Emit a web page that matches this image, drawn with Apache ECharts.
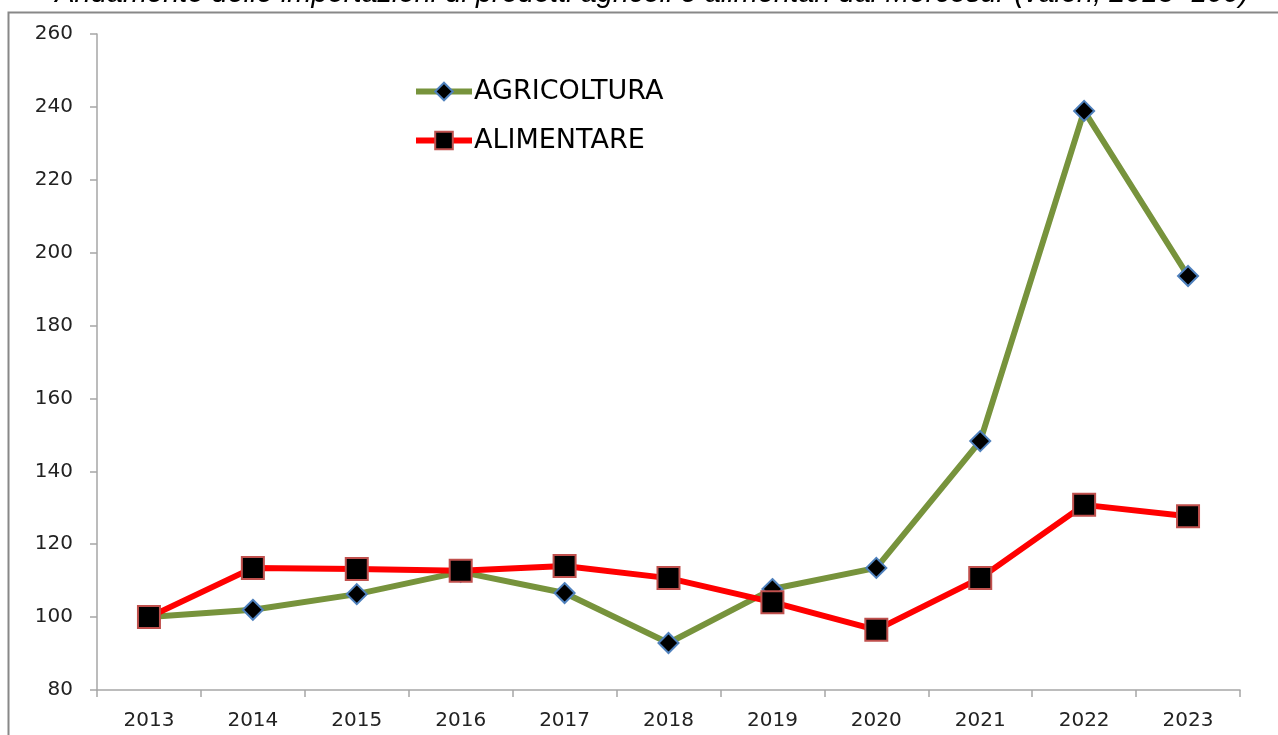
<!DOCTYPE html>
<html>
<head>
<meta charset="utf-8">
<script src="https://cdn.jsdelivr.net/npm/echarts@6/dist/echarts.min.js"></script>
<style>
  html, body { margin: 0; padding: 0; background: #fff; }
  #chart { width: 1278px; height: 735px; }
</style>
</head>
<body>
<div id="chart"></div>
<script>
// anni (categorie)
var years = ['2013', '2014', '2015', '2016', '2017', '2018', '2019', '2020', '2021', '2022', '2023'];
// indici 2013=100
var agricoltura = [100, 102, 106.3, 112.4, 106.6, 92.9, 107.7, 113.5, 148.3, 238.9, 193.6];
var alimentare = [100, 113.5, 113.2, 112.7, 114, 110.7, 104.1, 96.5, 110.7, 130.8, 127.7];

var titolo = 'Andamento delle importazioni di prodotti agricoli e alimentari dal Mercosur (valori, 2013=100)';

var myChart = echarts.init(document.getElementById('chart'));
var option = {
  animation: false,
  textStyle: { fontFamily: 'DejaVu Sans' },
  graphic: [
    {
      type: 'rect',
      shape: { x: 8.5, y: 12.5, width: 1300, height: 800 },
      style: { fill: 'none', stroke: '#888', lineWidth: 2 },
      silent: true
    },
    {
      // titolo tagliato in alto come nell'originale
      type: 'text',
      style: {
        x: 652,
        y: -21,
        text: titolo,
        align: 'center',
        verticalAlign: 'top',
        font: 'italic 29px "Liberation Sans"',
        fill: '#000'
      }
    }
  ],
  legend: {
    orient: 'vertical',
    left: 408,
    top: 73,
    itemWidth: 56,
    itemHeight: 22,
    itemGap: 22,
    lineStyle: { width: 6 },
    textStyle: { fontSize: 27, color: '#000', fontFamily: 'DejaVu Sans', padding: [0, 0, 0, -3] },
    data: ['AGRICOLTURA', 'ALIMENTARE']
  },
  grid: {
    left: 97,
    right: 38,
    top: 34,
    bottom: 45,
    containLabel: false
  },
  xAxis: {
    type: 'category',
    data: years,
    boundaryGap: true,
    axisLine: { lineStyle: { color: '#a6a6a6', width: 1.5 } },
    axisTick: { show: true, alignWithLabel: false, length: 7, lineStyle: { color: '#a6a6a6', width: 1.5 } },
    axisLabel: { color: '#222', fontSize: 20, margin: 21 }
  },
  yAxis: {
    type: 'value',
    min: 80,
    max: 260,
    interval: 20,
    splitLine: { show: false },
    axisLine: { show: true, lineStyle: { color: '#a6a6a6', width: 1.5 } },
    axisTick: { show: true, length: 7, lineStyle: { color: '#a6a6a6', width: 1.5 } },
    axisLabel: { color: '#222', fontSize: 20, margin: 24 }
  },
  series: [
    {
      name: 'AGRICOLTURA',
      type: 'line',
      data: agricoltura,
      symbol: 'diamond',
      symbolSize: 20,
      lineStyle: { color: '#77933c', width: 6 },
      itemStyle: { color: '#000', borderColor: '#4f81bd', borderWidth: 2 },
      z: 2
    },
    {
      name: 'ALIMENTARE',
      type: 'line',
      data: alimentare,
      symbol: 'rect',
      symbolSize: 22,
      lineStyle: { color: '#ff0000', width: 6 },
      itemStyle: { color: '#000', borderColor: '#c0504d', borderWidth: 2 },
      z: 3
    }
  ]
};
myChart.setOption(option);
window.addEventListener('resize', function () {
  myChart.resize();
});
</script>
</body>
</html>
